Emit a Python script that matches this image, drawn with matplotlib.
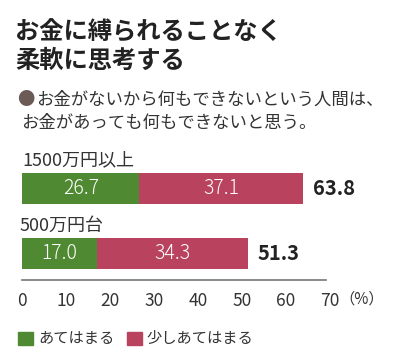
import numpy as np
import matplotlib.pyplot as plt

plt.rcParams['font.family'] = ['Noto Sans CJK JP', 'DejaVu Sans']

# data
groups = ['1500万円以上', '500万円台']
atehamaru = [26.7, 17.0]
sukoshi = [37.1, 34.3]
totals = [63.8, 51.3]
ticks = [0, 10, 20, 30, 40, 50, 60, 70]
legend_labels = ['あてはまる', '少しあてはまる']

green = '#4f8a32'
red = '#b9435f'

W, H = 400, 361
fig = plt.figure(figsize=(W / 100, H / 100), dpi=100)


def fx(x):
    return x / W


def fy(y):
    return 1 - y / H


# titles
fig.text(fx(15), fy(33), 'お金に縛られることなく', fontsize=17.5, fontweight='bold',
         color='#222222', va='center', ha='left')
fig.text(fx(15), fy(61), '柔軟に思考する', fontsize=17.5, fontweight='bold',
         color='#222222', va='center', ha='left')
fig.text(fx(17), fy(100), '●', fontsize=12.5, color='#6b5a55', va='center', ha='left')
fig.text(fx(36), fy(100), 'お金がないから何もできないという人間は、', fontsize=12.5,
         color='#333333', va='center', ha='left')
fig.text(fx(21), fy(123), 'お金があっても何もできないと思う。', fontsize=12.5,
         color='#333333', va='center', ha='left')

# bar axes
ax = fig.add_axes([fx(22), fy(279.5), fx(330) - fx(22), (279.5 - 156) / H])
y = np.arange(len(groups))
bh = 0.477
ax.barh(y, atehamaru, height=bh, color=green, edgecolor='none')
ax.barh(y, sukoshi, left=atehamaru, height=bh, color=red, edgecolor='none')
ax.set_xlim(0, 70)
ax.set_ylim(1.4, -0.5)

for i in range(len(groups)):
    ax.text(atehamaru[i] / 2, y[i], f'{atehamaru[i]:.1f}', color='white',
            fontsize=14, ha='center', va='center', fontweight='light')
    ax.text(atehamaru[i] + sukoshi[i] / 2, y[i], f'{sukoshi[i]:.1f}', color='white',
            fontsize=14, ha='center', va='center', fontweight='light')
    ax.text(totals[i] + 2.3, y[i], f'{totals[i]:.1f}', color='#222222',
            fontsize=14.5, ha='left', va='center', fontweight='bold')
    ax.text(-0.6 if i == 1 else 0, y[i] - 0.43, groups[i], color='#333333',
            fontsize=13, ha='left', va='center')

for s in ['top', 'right', 'left']:
    ax.spines[s].set_visible(False)
ax.spines['bottom'].set_color('#777777')
ax.spines['bottom'].set_linewidth(1.2)
ax.spines['bottom'].set_bounds(0, 69.2)
ax.set_yticks([])
ax.set_xticks(ticks)
ax.set_xticklabels([str(t) for t in ticks], fontsize=12.5, color='#333333')
ax.tick_params(axis='x', length=0, pad=9)
fig.text(fx(339), fy(299), '（%）', fontsize=11, color='#333333', ha='left', va='center')
ax.patch.set_alpha(0)

# legend
fig.patches.append(plt.Rectangle((fx(18), fy(345)), fx(15), 13 / H, color=green,
                                 transform=fig.transFigure))
fig.text(fx(38), fy(338.5), legend_labels[0], fontsize=11, color='#333333',
         va='center', ha='left')
fig.patches.append(plt.Rectangle((fx(127), fy(345)), fx(15), 13 / H, color=red,
                                 transform=fig.transFigure))
fig.text(fx(146), fy(338.5), legend_labels[1], fontsize=11, color='#333333',
         va='center', ha='left')

fig.savefig('out.png', dpi=100)
